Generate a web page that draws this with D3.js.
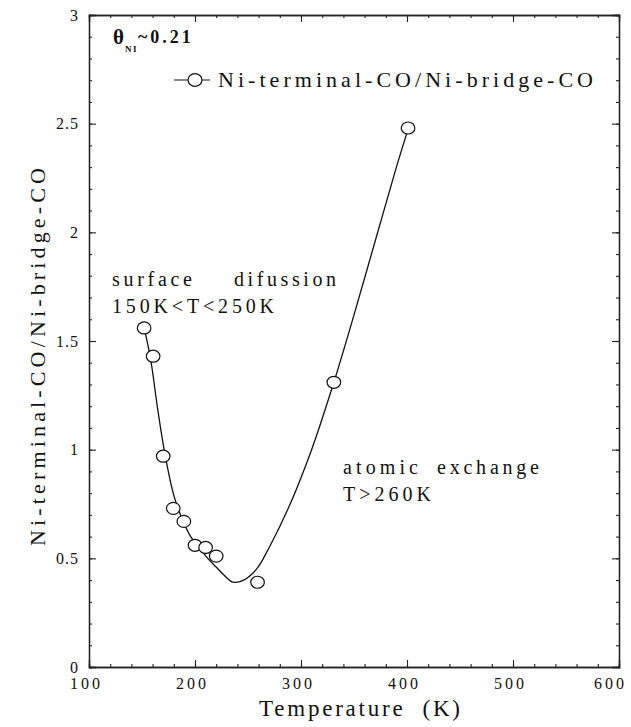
<!DOCTYPE html>
<html>
<head>
<meta charset="utf-8">
<script src="https://cdn.jsdelivr.net/npm/d3@7"></script>
<style>
  body { margin: 0; background: #fff; }
  svg, svg text { font-family: "Liberation Serif", "Times New Roman", Tinos, "DejaVu Serif", "Noto Serif", serif !important; }
  svg text { fill: #111; }
</style>
</head>
<body>
<div id="chart"></div>
<script>
// measured points
const tempK = [152, 160.5, 170, 179.5, 189.5, 200, 210, 220, 259, 331, 401];
const ratio = [1.56, 1.43, 0.97, 0.73, 0.67, 0.56, 0.55, 0.51, 0.39, 1.31, 2.48];

// fitted curve
const fitTemp  = [152, 158, 165, 172, 180, 188, 196, 204, 212, 220, 228, 236, 246, 258, 270, 288, 310, 331, 350, 370, 390, 402];
const fitRatio = [1.56, 1.42, 1.18, 0.97, 0.79, 0.68, 0.60, 0.55, 0.50, 0.46, 0.42, 0.39, 0.40, 0.45, 0.55, 0.73, 1.00, 1.31, 1.62, 1.96, 2.30, 2.49];

const xTicks = [100, 200, 300, 400, 500, 600];
const yTicks = [0, 0.5, 1, 1.5, 2, 2.5, 3];
const yTickLabels = ["0", "0.5", "1", "1.5", "2", "2.5", "3"];

const serif = '"Liberation Serif", "Times New Roman", Tinos, "DejaVu Serif", serif';
const width = 631, height = 727;
const plot = { left: 89, right: 619, top: 15, bottom: 667 };

const svg = d3.select("#chart").append("svg")
    .attr("width", width)
    .attr("height", height)
    .attr("font-family", serif);

const x = d3.scaleLinear([100, 600], [plot.left, plot.right]);
const y = d3.scaleLinear([0, 3], [plot.bottom, plot.top]);

const xMinor = d3.range(100, 601, 20);
const yMinor = d3.range(0, 3.001, 0.1);

function styleAxis(g) {
    g.attr("font-family", serif);
    g.select(".domain").attr("stroke", "#222").attr("stroke-width", 1.3);
    g.selectAll(".tick line").attr("stroke", "#222").attr("stroke-width", 1.1);
}

// bottom
svg.append("g")
    .attr("transform", `translate(0,${plot.bottom})`)
    .call(d3.axisBottom(x).tickValues(xMinor).tickSize(-3).tickFormat(""))
    .call(styleAxis);
svg.append("g")
    .attr("class", "x axis")
    .attr("transform", `translate(0,${plot.bottom})`)
    .call(d3.axisBottom(x).tickValues(xTicks).tickSize(-7).tickPadding(11).tickFormat(d3.format("d")))
    .call(styleAxis)
    .call(g => g.selectAll("text")
        .attr("font-size", 16)
        .attr("letter-spacing", 3)
        .attr("dx", d => d === 600 ? -9 : -3));

// top
svg.append("g")
    .attr("transform", `translate(0,${plot.top})`)
    .call(d3.axisTop(x).tickValues(xMinor).tickSize(-3).tickFormat(""))
    .call(styleAxis);
svg.append("g")
    .attr("transform", `translate(0,${plot.top})`)
    .call(d3.axisTop(x).tickValues(xTicks).tickSize(-7).tickFormat(""))
    .call(styleAxis);

// left
svg.append("g")
    .attr("transform", `translate(${plot.left},0)`)
    .call(d3.axisLeft(y).tickValues(yMinor).tickSize(-3).tickFormat(""))
    .call(styleAxis);
svg.append("g")
    .attr("class", "y axis")
    .attr("transform", `translate(${plot.left},0)`)
    .call(d3.axisLeft(y).tickValues(yTicks).tickSize(-7).tickPadding(10)
        .tickFormat((d, i) => yTickLabels[i]))
    .call(styleAxis)
    .call(g => g.selectAll("text")
        .attr("font-size", 16)
        .attr("letter-spacing", 1));

// right
svg.append("g")
    .attr("transform", `translate(${plot.right},0)`)
    .call(d3.axisRight(y).tickValues(yMinor).tickSize(-3).tickFormat(""))
    .call(styleAxis);
svg.append("g")
    .attr("transform", `translate(${plot.right},0)`)
    .call(d3.axisRight(y).tickValues(yTicks).tickSize(-7).tickFormat(""))
    .call(styleAxis);

// fitted curve
const fit = fitTemp.map((t, i) => ({ t, r: fitRatio[i] }));
svg.append("path")
    .datum(fit)
    .attr("fill", "none")
    .attr("stroke", "#111")
    .attr("stroke-width", 1.3)
    .attr("d", d3.line()
        .x(d => x(d.t))
        .y(d => y(d.r))
        .curve(d3.curveCatmullRom.alpha(0.5)));

// markers
const pts = tempK.map((t, i) => ({ t, r: ratio[i] }));
svg.selectAll(".dot")
    .data(pts)
    .join("ellipse")
    .attr("class", "dot")
    .attr("cx", d => x(d.t))
    .attr("cy", d => y(d.r))
    .attr("rx", 6.8)
    .attr("ry", 6)
    .attr("fill", "#fff")
    .attr("stroke", "#111")
    .attr("stroke-width", 1.2);

// coverage label
const theta = svg.append("text")
    .attr("x", 113)
    .attr("y", 44)
    .attr("font-weight", "bold")
    .attr("font-size", 18);
theta.append("tspan").text("θ").attr("font-size", 21);
theta.append("tspan").text("NI").attr("font-size", 9).attr("dy", 8).attr("dx", 1).attr("letter-spacing", 1.5);
theta.append("tspan").text("~0.21").attr("dy", -9).attr("letter-spacing", 3);

// legend
svg.append("line")
    .attr("x1", 174).attr("x2", 210)
    .attr("y1", 80).attr("y2", 80)
    .attr("stroke", "#111").attr("stroke-width", 1.2);
svg.append("ellipse")
    .attr("cx", 195).attr("cy", 80)
    .attr("rx", 7).attr("ry", 6.3)
    .attr("fill", "#fff").attr("stroke", "#111").attr("stroke-width", 1.2);
svg.append("text")
    .attr("x", 218).attr("y", 87)
    .attr("font-size", 22)
    .attr("textLength", 375)
    .attr("lengthAdjust", "spacing")
    .text("Ni-terminal-CO/Ni-bridge-CO");

// annotations
function note(words, xs, yb, lens) {
    words.forEach((w, i) => {
        svg.append("text")
            .attr("x", xs[i]).attr("y", yb)
            .attr("font-size", 20)
            .attr("textLength", lens[i])
            .attr("lengthAdjust", "spacing")
            .text(w);
    });
}
note(["surface", "difussion"], [112, 234], 286, [80, 102]);
note(["150K<T<250K"], [112], 313, [162]);
note(["atomic", "exchange"], [343, 437], 474, [75, 102]);
note(["T>260K"], [343], 501, [88]);

// axis titles
svg.append("text")
    .attr("x", 259).attr("y", 716)
    .attr("font-size", 23)
    .attr("textLength", 201)
    .attr("lengthAdjust", "spacing")
    .style("white-space", "pre")
    .text("Temperature  (K)");

svg.append("text")
    .attr("transform", "translate(45,357) rotate(-90)")
    .attr("text-anchor", "middle")
    .attr("font-size", 22)
    .attr("textLength", 378)
    .attr("lengthAdjust", "spacing")
    .text("Ni-terminal-CO/Ni-bridge-CO");
</script>
</body>
</html>
